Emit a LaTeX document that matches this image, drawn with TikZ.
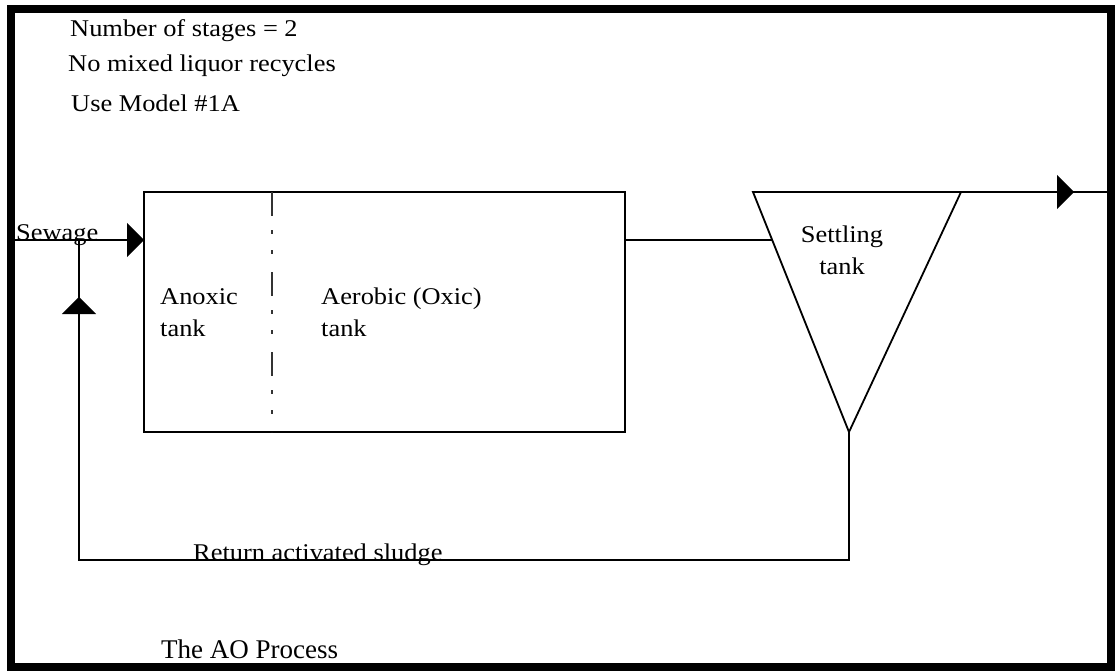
\documentclass[tikz,border=0pt]{standalone}
\usepackage{fontspec}
\setmainfont[FakeStretch=1.1]{Liberation Serif}
\newfontfamily\captionfont{Liberation Serif}
\usetikzlibrary{arrows.meta,decorations.markings}
\begin{document}
\begin{tikzpicture}[x=1pt,y=-1pt,
  lbl/.style={anchor=base west,inner sep=0pt,font=\fontsize{24}{28}\selectfont},
  pipe/.style={line width=1.8pt},
  tri/.style={-{Triangle[length=17pt,width=34pt]}},
  midtri/.style={postaction={decorate},decoration={markings,
     mark=at position #1 with {\arrow{Triangle[length=17pt,width=34pt]}}}}]
\useasboundingbox (0,0) rectangle (1115,671);
% frame
\node[draw,line width=8pt,minimum width=1100pt,minimum height=658pt,anchor=north west,inner sep=0pt,outer sep=0pt] (frame) at (11,9) {};
% main tank
\node[draw,line width=1.8pt,minimum width=481pt,minimum height=240pt,anchor=north west,inner sep=0pt,outer sep=0pt] (tank) at (144,192) {};
\coordinate (divtop) at (272,192);
\coordinate (divbot) at (272,432);
\draw[line width=1.5pt,black!80,dash pattern=on 24pt off 14pt on 4pt off 16pt on 4pt off 18pt] (divtop) -- (divbot);
% settling tank
\coordinate (stl) at (753,192);
\coordinate (str) at (961,192);
\coordinate (sb) at (849,432);
\draw[pipe,line join=miter] (stl) -- (str) -- (sb) -- cycle;
% connectors
\coordinate (sewin) at (15,240);
\coordinate (tankin) at (144,240);
\coordinate (tankout) at (625,240);
\coordinate (setin) at (772.2,240);
\coordinate (effl) at (1107,192);
\coordinate (rc1) at (849,560);
\coordinate (rc2) at (79,560);
\coordinate (rjoin) at (79,240);
\draw[pipe,tri] (sewin) -- (tankin);
\draw[pipe] (tankout) -- (setin);
\draw[pipe,midtri=113pt] (str) -- (effl);
\draw[pipe,midtri=-57pt] (sb) -- (rc1) -- (rc2) -- (rjoin);
% labels
\node[lbl] (t1) at (70,37) {Number of stages = 2};
\node[lbl] (t2) at (68,72) {No mixed liquor recycles};
\node[lbl] (t3) at (71,112) {Use Model \#1A};
\node[lbl] (sew) at (16,240) {Sewage};
\node[lbl] (an1) at (160,304) {Anoxic};
\node[lbl] (an2) at (160,336) {tank};
\node[lbl] (ae1) at (321,304) {Aerobic (Oxic)};
\node[lbl] (ae2) at (321,336) {tank};
\node[lbl,anchor=base] (st1) at (842,242) {Settling};
\node[lbl,anchor=base] (st2) at (842,274) {tank};
\node[lbl] (ras) at (193,560) {Return activated sludge};
\node[anchor=base west,inner sep=0pt,font=\captionfont\fontsize{27}{30}\selectfont] (cap) at (161,658) {The AO Process};
\end{tikzpicture}
\end{document}
